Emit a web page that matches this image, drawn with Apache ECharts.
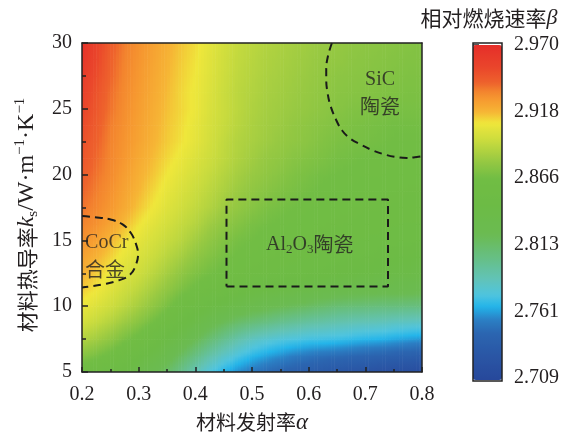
<!DOCTYPE html>
<html><head><meta charset="utf-8">
<script src="https://cdn.jsdelivr.net/npm/echarts@6/dist/echarts.min.js"></script>
<style>html,body{margin:0;padding:0;background:#fff}#c{width:572px;height:439px}</style>
</head><body><div id="c"></div>
<script>
// ---------------- data ----------------
const alphaValues = [0.2,0.225,0.25,0.275,0.3,0.325,0.35,0.375,0.4,0.425,0.45,0.475,0.5,0.525,0.55,0.575,0.6,0.625,0.65,0.675,0.7,0.725,0.75,0.775,0.8];
const kValues = [5,6.25,7.5,8.75,10,11.25,12.5,13.75,15,16.25,17.5,18.75,20,21.25,22.5,23.75,25,26.25,27.5,28.75,30];

const beta_k05_00 = [2.858,2.854,2.848,2.842,2.834,2.825,2.815,2.802,2.788,2.776,2.766,2.758,2.752,2.747,2.743,2.739,2.736,2.732,2.729,2.726,2.724,2.721,2.719,2.717,2.716];
const beta_k06_25 = [2.874,2.869,2.863,2.856,2.848,2.839,2.829,2.817,2.805,2.793,2.783,2.775,2.768,2.763,2.759,2.755,2.752,2.750,2.748,2.746,2.744,2.742,2.740,2.739,2.737];
const beta_k07_50 = [2.888,2.883,2.877,2.869,2.862,2.853,2.843,2.833,2.822,2.811,2.801,2.792,2.785,2.780,2.777,2.775,2.773,2.772,2.771,2.769,2.767,2.766,2.764,2.762,2.760];
const beta_k08_75 = [2.899,2.894,2.888,2.881,2.874,2.866,2.858,2.848,2.838,2.828,2.820,2.813,2.808,2.804,2.800,2.797,2.794,2.792,2.790,2.788,2.787,2.786,2.784,2.783,2.782];
const beta_k10_00 = [2.907,2.902,2.897,2.891,2.884,2.877,2.869,2.860,2.852,2.845,2.839,2.834,2.830,2.826,2.822,2.819,2.816,2.813,2.810,2.809,2.808,2.807,2.807,2.806,2.806];
const beta_k11_25 = [2.914,2.909,2.903,2.897,2.891,2.884,2.877,2.870,2.864,2.859,2.855,2.851,2.847,2.844,2.841,2.838,2.836,2.833,2.831,2.830,2.829,2.828,2.827,2.827,2.826];
const beta_k12_50 = [2.920,2.914,2.908,2.902,2.897,2.891,2.884,2.877,2.871,2.867,2.864,2.861,2.858,2.856,2.854,2.852,2.850,2.849,2.847,2.845,2.843,2.842,2.840,2.839,2.838];
const beta_k13_75 = [2.925,2.919,2.913,2.906,2.901,2.896,2.890,2.884,2.877,2.872,2.868,2.865,2.863,2.861,2.859,2.857,2.856,2.854,2.853,2.851,2.850,2.848,2.847,2.846,2.845];
const beta_k15_00 = [2.930,2.925,2.918,2.911,2.905,2.900,2.895,2.890,2.883,2.877,2.872,2.868,2.866,2.864,2.862,2.861,2.860,2.858,2.857,2.856,2.855,2.854,2.853,2.852,2.851];
const beta_k16_25 = [2.934,2.930,2.924,2.917,2.910,2.904,2.899,2.894,2.889,2.882,2.877,2.873,2.869,2.867,2.865,2.863,2.862,2.861,2.860,2.859,2.858,2.857,2.856,2.855,2.855];
const beta_k17_50 = [2.937,2.933,2.928,2.922,2.915,2.909,2.903,2.898,2.893,2.888,2.882,2.878,2.874,2.870,2.868,2.866,2.864,2.863,2.862,2.861,2.860,2.860,2.859,2.858,2.858];
const beta_k18_75 = [2.940,2.935,2.930,2.924,2.918,2.912,2.906,2.901,2.896,2.891,2.886,2.881,2.877,2.874,2.871,2.869,2.867,2.865,2.864,2.863,2.862,2.861,2.861,2.860,2.860];
const beta_k20_00 = [2.943,2.937,2.932,2.926,2.920,2.915,2.909,2.904,2.899,2.894,2.889,2.884,2.880,2.877,2.874,2.871,2.869,2.867,2.866,2.865,2.864,2.864,2.863,2.863,2.863];
const beta_k21_25 = [2.946,2.939,2.933,2.928,2.922,2.917,2.912,2.907,2.902,2.897,2.892,2.887,2.883,2.879,2.877,2.874,2.872,2.870,2.868,2.867,2.866,2.865,2.865,2.864,2.864];
const beta_k22_50 = [2.948,2.941,2.934,2.929,2.924,2.919,2.914,2.910,2.905,2.899,2.893,2.888,2.885,2.882,2.879,2.877,2.875,2.872,2.870,2.869,2.868,2.867,2.866,2.866,2.866];
const beta_k23_75 = [2.951,2.943,2.935,2.930,2.925,2.920,2.915,2.911,2.906,2.900,2.895,2.890,2.886,2.883,2.881,2.878,2.876,2.874,2.872,2.870,2.869,2.868,2.867,2.867,2.867];
const beta_k25_00 = [2.954,2.945,2.937,2.931,2.926,2.921,2.916,2.912,2.908,2.901,2.896,2.891,2.887,2.884,2.882,2.880,2.878,2.876,2.874,2.872,2.871,2.870,2.869,2.869,2.869];
const beta_k26_25 = [2.957,2.947,2.938,2.932,2.927,2.922,2.917,2.912,2.908,2.902,2.896,2.891,2.888,2.885,2.883,2.881,2.879,2.877,2.875,2.874,2.873,2.872,2.871,2.870,2.870];
const beta_k27_50 = [2.960,2.950,2.940,2.933,2.928,2.923,2.918,2.913,2.909,2.903,2.897,2.892,2.889,2.886,2.884,2.882,2.880,2.878,2.876,2.875,2.874,2.873,2.872,2.871,2.871];
const beta_k28_75 = [2.964,2.953,2.941,2.934,2.929,2.924,2.919,2.914,2.910,2.904,2.898,2.893,2.890,2.887,2.885,2.883,2.881,2.879,2.878,2.876,2.875,2.874,2.873,2.872,2.872];
const beta_k30_00 = [2.967,2.955,2.943,2.935,2.930,2.925,2.920,2.915,2.911,2.905,2.899,2.894,2.891,2.888,2.886,2.884,2.882,2.880,2.879,2.877,2.876,2.875,2.874,2.873,2.872];

const betaRows = [beta_k05_00,beta_k06_25,beta_k07_50,beta_k08_75,beta_k10_00,beta_k11_25,beta_k12_50,beta_k13_75,beta_k15_00,beta_k16_25,beta_k17_50,beta_k18_75,beta_k20_00,beta_k21_25,beta_k22_50,beta_k23_75,beta_k25_00,beta_k26_25,beta_k27_50,beta_k28_75,beta_k30_00];

const betaMin = 2.709, betaMax = 2.970;
const xTickLabels = ['0.2','0.3','0.4','0.5','0.6','0.7','0.8'];
const yTickLabels = ['5','10','15','20','25','30'];
const cbTickLabels = ['2.709','2.761','2.813','2.866','2.918','2.970'];

// material regions (alpha, k_s)
const al2o3Box = [[0.455,11.5],[0.74,11.5],[0.74,18.1],[0.455,18.1],[0.455,11.5]];
const cocrOutline = [[0.2,16.85],[0.223,16.76],[0.249,16.6],[0.271,16.24],[0.286,15.58],[0.295,14.76],[0.299,13.95],[0.295,13.14],[0.285,12.4],[0.264,11.95],[0.237,11.66],[0.214,11.5],[0.2,11.43]];
const sicOutline = [[0.641,30],[0.634,29],[0.631,28],[0.631,27.2],[0.633,26.3],[0.638,25.3],[0.648,24.2],[0.659,23.35],[0.673,22.75],[0.691,22.3],[0.712,21.86],[0.731,21.57],[0.752,21.35],[0.773,21.27],[0.791,21.33],[0.8,21.4]];

// ---------------- styling ----------------
const colorStops = [
  [2.709,'#27489b'],[2.728,'#2a56a5'],[2.745,'#2b65b0'],[2.756,'#2b7fc4'],[2.766,'#22b4ea'],
  [2.775,'#4fc4df'],[2.788,'#62c3b6'],[2.803,'#66bf88'],[2.822,'#6bbb52'],[2.845,'#6cbb45'],
  [2.866,'#71bd44'],[2.880,'#98c942'],[2.895,'#c8db3e'],[2.909,'#efe73b'],[2.918,'#f6b535'],
  [2.928,'#f69830'],[2.934,'#f3842e'],[2.940,'#ee632c'],[2.952,'#ea472b'],[2.970,'#e52d29']
];
function hex2rgb(h){return [parseInt(h.slice(1,3),16),parseInt(h.slice(3,5),16),parseInt(h.slice(5,7),16)];}
function colorAt(v){
  for(let i=0;i<colorStops.length-1;i++){
    const a=colorStops[i], b=colorStops[i+1];
    if(v<=b[0]){
      const t=Math.max(0,Math.min(1,(v-a[0])/(b[0]-a[0])));
      const ca=hex2rgb(a[1]), cb=hex2rgb(b[1]);
      return 'rgb('+ca.map((x,j)=>Math.round(x+(cb[j]-x)*t)).join(',')+')';
    }
  }
  return colorStops[colorStops.length-1][1];
}
const cmap=[]; for(let i=0;i<=130;i++){cmap.push(colorAt(betaMin+(betaMax-betaMin)*i/130));}

const serif="'Liberation Serif','Times New Roman',serif";
const cjk="'Noto Sans CJK SC','Liberation Serif',sans-serif";
const ink='#231f20';

const nA=alphaValues.length, nK=kValues.length;
const cells=[];
betaRows.forEach((row,r)=>row.forEach((v,c)=>cells.push([alphaValues[c],kValues[r],v])));

// each grid node is one data item; the patch between a node and its upper-right
// neighbours is shaded (Gouraud-style) from the four node colours
function renderCell(params,api){
  const idx=params.dataIndex, r=Math.floor(idx/nA), c=idx%nA;
  if(r>=nK-1||c>=nA-1) return null;
  const v00=betaRows[r][c], v10=betaRows[r][c+1], v01=betaRows[r+1][c], v11=betaRows[r+1][c+1];
  const pBL=api.coord([alphaValues[c],kValues[r]]), pTR=api.coord([alphaValues[c+1],kValues[r+1]]);
  const x0=pBL[0], x1=pTR[0], yB=pBL[1], yT=pTR[1];
  const S=5, Q=4, children=[];
  for(let s=0;s<S;s++){
    const tm=(s+0.5)/S;
    const vb=v00+(v10-v00)*tm, vt=v01+(v11-v01)*tm;
    const stops=[];
    for(let q=0;q<=Q;q++){const f=q/Q; stops.push({offset:f,color:colorAt(vt+(vb-vt)*f)});}
    children.push({type:'rect',shape:{x:x0+(x1-x0)*s/S,y:yT,width:(x1-x0)/S+0.6,height:yB-yT+0.6},
      style:{fill:new echarts.graphic.LinearGradient(0,0,0,1,stops),stroke:null}});
  }
  return {type:'group',children};
}

const frameLine={show:true,onZero:false,lineStyle:{color:'#222',width:1.5}};
const tickStyle={color:'#222',width:1.5};
const dash={type:[8,5],width:2,color:'#1a1a1a'};

const chart=echarts.init(document.getElementById('c'),null,{renderer:'canvas'});
chart.setOption({
  animation:false,
  backgroundColor:'#fff',
  grid:[{left:82,top:43,width:340,height:338},{left:473,top:45,width:29,height:333}],
  xAxis:[
    {gridIndex:0,type:'value',min:0.2,max:0.8,interval:0.1,position:'bottom',z:10,
     axisLine:frameLine,axisTick:{show:true,inside:true,length:5,lineStyle:tickStyle},
     minorTick:{show:true,splitNumber:2,length:3,lineStyle:tickStyle},
     splitLine:{show:false},minorSplitLine:{show:false},
     axisLabel:{fontFamily:serif,fontSize:20,color:ink,margin:13,formatter:v=>xTickLabels[Math.round((v-0.2)/0.1)]},
     name:'{cn|材料发射率}{it|α}',nameLocation:'middle',nameGap:39,
     nameTextStyle:{rich:{cn:{fontFamily:cjk,fontSize:20,color:ink,verticalAlign:'middle'},it:{fontFamily:serif,fontStyle:'italic',fontSize:23,color:ink,verticalAlign:'middle'}}}},
    {gridIndex:0,type:'value',min:0.2,max:0.8,position:'top',z:10,axisLine:frameLine,axisTick:{show:false},axisLabel:{show:false},splitLine:{show:false}},
    {gridIndex:1,type:'value',min:0,max:1,show:false}
  ],
  yAxis:[
    {gridIndex:0,type:'value',min:5,max:30,interval:5,position:'left',z:10,
     axisLine:frameLine,axisTick:{show:true,inside:true,length:6,lineStyle:tickStyle},
     minorTick:{show:true,splitNumber:2,length:4,lineStyle:tickStyle},
     splitLine:{show:false},minorSplitLine:{show:false},
     axisLabel:{fontFamily:serif,fontSize:20,color:ink,margin:10,formatter:v=>yTickLabels[Math.round((v-5)/5)]}},
    {gridIndex:0,type:'value',min:5,max:30,position:'right',z:10,axisLine:frameLine,axisTick:{show:false},axisLabel:{show:false},splitLine:{show:false}},
    {gridIndex:1,type:'value',min:0,max:5,interval:1,position:'right',
     axisLine:{show:false},axisTick:{show:true,inside:false,length:6,lineStyle:tickStyle},
     splitLine:{show:false},
     axisLabel:{fontFamily:serif,fontSize:20,color:ink,margin:12,formatter:v=>cbTickLabels[Math.round(v)]}}
  ],
  visualMap:{type:'continuous',min:betaMin,max:betaMax,dimension:2,seriesIndex:0,orient:'vertical',
    left:473,top:45,itemWidth:29,itemHeight:335,calculable:false,hoverLink:false,padding:0,
    inRange:{color:cmap}},
  series:[
    {type:'custom',xAxisIndex:0,yAxisIndex:0,data:cells,clip:true,silent:true,z:1,renderItem:renderCell},
    {type:'line',xAxisIndex:0,yAxisIndex:0,data:al2o3Box,symbol:'none',lineStyle:dash,silent:true,z:5},
    {type:'line',xAxisIndex:0,yAxisIndex:0,data:cocrOutline,symbol:'none',smooth:0.4,lineStyle:dash,silent:true,z:5},
    {type:'line',xAxisIndex:0,yAxisIndex:0,data:sicOutline,symbol:'none',smooth:0.4,lineStyle:dash,silent:true,z:5},
    {type:'scatter',xAxisIndex:0,yAxisIndex:0,symbolSize:1,itemStyle:{color:'transparent'},silent:true,z:6,
     label:{show:true,position:'inside',color:ink,
       rich:{a:{fontFamily:serif,fontSize:20,color:ink,verticalAlign:'middle',lineHeight:26},
             s:{fontFamily:serif,fontSize:13,color:ink,verticalAlign:'middle',padding:[11,0,0,0]},
             c:{fontFamily:cjk,fontSize:20,color:ink,verticalAlign:'middle',lineHeight:26}}},
     data:[
       {value:[0.602,14.7],label:{formatter:'{a|Al}{s|2}{a|O}{s|3}{c|陶瓷}'}},
       {value:[0.726,26.2],label:{formatter:'{a|SiC}\n{c|陶瓷}'}},
       {value:[0.2055,13.8],label:{formatter:'{a|CoCr}\n{c|合金}',align:'left'}}
     ]}
  ],
  graphic:[
    {type:'rect',z:100,silent:true,shape:{x:473,y:43,width:29,height:338},style:{fill:'none',stroke:'#222',lineWidth:1.5}},
    {type:'text',z:100,silent:true,x:27,y:215,rotation:Math.PI/2,
     style:{text:'{cn|材料热导率}{it|k}{sub|s}{n|/W·m}{sup|−1}{n|·K}{sup|−1}',align:'center',verticalAlign:'middle',fill:ink,
       rich:{cn:{fontFamily:cjk,fontSize:21,fill:ink,verticalAlign:'middle'},
             it:{fontFamily:serif,fontStyle:'italic',fontSize:24,fill:ink,verticalAlign:'middle'},
             n:{fontFamily:serif,fontSize:24,fill:ink,verticalAlign:'middle'},
             sub:{fontFamily:serif,fontSize:15,fill:ink,verticalAlign:'middle',padding:[13,0,0,0]},
             sup:{fontFamily:serif,fontSize:15,fill:ink,verticalAlign:'middle',padding:[0,0,13,0]}}}},
    {type:'text',z:100,silent:true,x:489,y:18,
     style:{text:'{cn|相对燃烧速率}{it|β}',align:'center',verticalAlign:'middle',fill:ink,
       rich:{cn:{fontFamily:cjk,fontSize:21,fill:ink,verticalAlign:'middle'},
             it:{fontFamily:serif,fontStyle:'italic',fontSize:22,fill:ink,verticalAlign:'middle'}}}}
  ]
});
</script></body></html>
